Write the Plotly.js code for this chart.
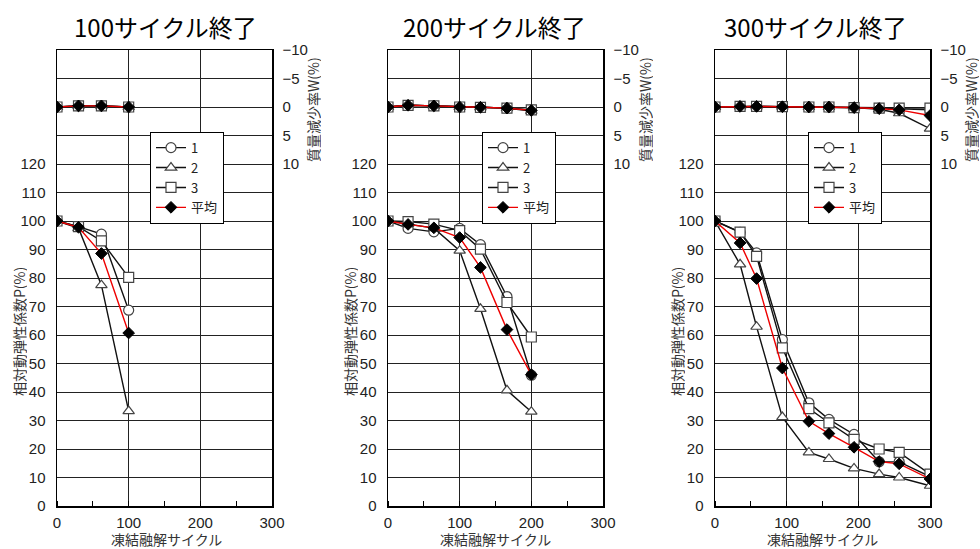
<!DOCTYPE html>
<html>
<head>
<meta charset="utf-8">
<script src="https://cdn.plot.ly/plotly-3.0.1.min.js"></script>
<style>html,body{margin:0;padding:0;background:#fff;}#chart{width:980px;height:549px;}</style>
</head>
<body>
<div id="chart"></div>
<script>
// ---- data ----
const panelTitles = ["100サイクル終了", "200サイクル終了", "300サイクル終了"];
const seriesNames = ["1", "2", "3", "平均"];
const xTickVals = [0, 100, 200, 300];
const pTickVals = [0, 10, 20, 30, 40, 50, 60, 70, 80, 90, 100, 110, 120];
const wTickVals = [-10, -5, 0, 5, 10];

// 100 cycles
const cycles100 = [0, 30, 62, 100];
const P100_1 = [100, 98.0, 95.4, 68.7];
const P100_2 = [100, 97.5, 77.5, 33.3];
const P100_3 = [100, 98.0, 93.0, 80.2];
const P100_avg = [100, 97.8, 88.6, 60.7];
const W100_1 = [0, -0.2, -0.2, 0.0];
const W100_2 = [0, -0.2, -0.2, 0.0];
const W100_3 = [0, -0.2, -0.2, 0.0];
const W100_avg = [0, -0.2, -0.2, 0.0];

// 200 cycles
const cycles200 = [0, 28, 64, 100, 129, 166, 200];
const P200_1 = [100, 97.4, 96.2, 97.4, 91.7, 73.5, 45.9];
const P200_2 = [100, 99.0, 97.5, 89.6, 69.2, 40.6, 33.1];
const P200_3 = [100, 99.8, 98.9, 96.6, 90.1, 71.4, 59.3];
const P200_avg = [100, 98.8, 97.6, 94.2, 83.7, 61.9, 46.1];
const W200_1 = [0, -0.3, -0.2, 0.0, 0.05, 0.2, 0.5];
const W200_2 = [0, -0.3, -0.2, 0.0, 0.05, 0.2, 0.7];
const W200_3 = [0, -0.3, -0.2, 0.0, 0.05, 0.2, 0.5];
const W200_avg = [0, -0.3, -0.2, 0.0, 0.05, 0.2, 0.6];

// 300 cycles
const cycles300 = [0, 35, 58, 94, 131, 159, 194, 229, 257, 300];
const P300_1 = [100, 96.0, 88.8, 58.4, 36.2, 30.4, 25.1, 15.5, 15.5, 10.3];
const P300_2 = [100, 84.8, 62.9, 31.2, 18.8, 16.5, 13.2, 11.2, 10.0, 7.1];
const P300_3 = [100, 96.1, 87.6, 55.5, 34.2, 29.2, 23.4, 20.0, 18.8, 11.2];
const P300_avg = [100, 92.3, 79.8, 48.4, 29.7, 25.4, 20.6, 15.6, 14.8, 9.5];
const W300_1 = [0, -0.1, -0.1, -0.05, 0.0, 0.0, 0.1, 0.2, 0.3, 0.5];
const W300_2 = [0, -0.1, -0.1, -0.05, 0.0, 0.0, 0.1, 0.4, 1.1, 3.8];
const W300_3 = [0, -0.1, -0.1, -0.05, 0.0, 0.0, 0.1, 0.2, 0.2, 0.2];
const W300_avg = [0, -0.1, -0.1, -0.05, 0.0, 0.0, 0.1, 0.3, 0.5, 1.5];

// ---- styles ----
const styles = [
  {line: {color: '#111', width: 1.4}, marker: {symbol: 'circle', size: 10, color: '#fff', line: {color: '#444', width: 1.2}}},
  {line: {color: '#111', width: 1.4}, marker: {symbol: 'triangle-up', size: 10, color: '#fff', line: {color: '#444', width: 1.2}}},
  {line: {color: '#111', width: 1.4}, marker: {symbol: 'square', size: 10, color: '#fff', line: {color: '#444', width: 1.2}}},
  {line: {color: '#ee0000', width: 1.4}, marker: {symbol: 'diamond', size: 9, color: '#000', line: {color: '#000', width: 1}}}
];

const panels = [
  {x: cycles100, P: [P100_1, P100_2, P100_3, P100_avg], W: [W100_1, W100_2, W100_3, W100_avg]},
  {x: cycles200, P: [P200_1, P200_2, P200_3, P200_avg], W: [W200_1, W200_2, W200_3, W200_avg]},
  {x: cycles300, P: [P300_1, P300_2, P300_3, P300_avg], W: [W300_1, W300_2, W300_3, W300_avg]}
];

const traces = [];
panels.forEach((pn, i) => {
  const xa = i === 0 ? 'x' : 'x' + (i + 1);
  const yaP = i === 0 ? 'y' : 'y' + (2 * i + 1);
  const yaW = 'y' + (2 * i + 2);
  const leg = i === 0 ? 'legend' : 'legend' + (i + 1);
  for (let s = 0; s < 4; s++) {
    traces.push({
      type: 'scatter', mode: 'lines+markers', name: seriesNames[s],
      x: pn.x, y: pn.W[s], xaxis: xa, yaxis: yaW,
      line: styles[s].line, marker: styles[s].marker,
      showlegend: false, legendgroup: 'g' + i + s, legend: leg, hoverinfo: 'skip'
    });
  }
  for (let s = 0; s < 4; s++) {
    traces.push({
      type: 'scatter', mode: 'lines+markers', name: seriesNames[s],
      x: pn.x, y: pn.P[s], xaxis: xa, yaxis: yaP,
      line: styles[s].line, marker: styles[s].marker,
      showlegend: true, legendgroup: 'g' + i + s, legend: leg
    });
  }
});

// ---- layout ----
const W = 980;
const domains = [[57 / W, 272 / W], [388 / W, 603 / W], [715 / W, 930 / W]];
const tickFont = {family: 'Liberation Sans, Arial, sans-serif', size: 15, color: '#222'};
const jpFont = 'Noto Sans CJK JP, sans-serif';

const layout = {
  width: 980, height: 549,
  margin: {l: 0, r: 0, t: 50, b: 43},
  paper_bgcolor: '#fff', plot_bgcolor: '#fff',
  showlegend: true,
  annotations: [],
  font: {family: 'Liberation Sans, Arial, sans-serif', color: '#222'}
};

const legX = [150 / W, 482 / W, 808 / W];
const titleX = [165 / W, 495 / W, 815 / W];
const leftTitleX = [19 / W, 350 / W, 677 / W];
const rightTitleX = [313 / W, 645 / W, 971 / W];
const xTitleX = [166 / W, 496 / W, 822 / W];

for (let i = 0; i < 3; i++) {
  const xk = i === 0 ? 'xaxis' : 'xaxis' + (i + 1);
  const yPk = i === 0 ? 'yaxis' : 'yaxis' + (2 * i + 1);
  const yWk = 'yaxis' + (2 * i + 2);
  const yPid = i === 0 ? 'y' : 'y' + (2 * i + 1);
  const xid = i === 0 ? 'x' : 'x' + (i + 1);
  layout[xk] = {
    domain: domains[i], anchor: yPid, range: [0, 300],
    tickvals: xTickVals, ticks: '', tickfont: tickFont, ticklabelstandoff: 2,
    showgrid: true, gridcolor: '#222', gridwidth: 1,
    showline: true, linecolor: '#000', linewidth: 1.5, mirror: true,
    zeroline: false, fixedrange: true,
    minor: {dtick: 50, tick0: 0, ticks: 'inside', ticklen: 5, tickcolor: '#000', tickwidth: 1, showgrid: false}
  };
  layout[yPk] = {
    domain: [0, 1], anchor: xid, range: [0, 160],
    tickvals: pTickVals, ticks: '', tickfont: tickFont, ticklabelstandoff: 7,
    showgrid: true, gridcolor: '#222', gridwidth: 1,
    showline: true, linecolor: '#000', linewidth: 1.5,
    zeroline: false, fixedrange: true
  };
  layout[yWk] = {
    overlaying: yPid, side: 'right', anchor: xid, range: [70, -10],
    tickvals: wTickVals, ticks: '', tickfont: tickFont, ticklabelstandoff: 6,
    showgrid: true, gridcolor: '#222', gridwidth: 1,
    showline: true, linecolor: '#000', linewidth: 1.5,
    zeroline: false, fixedrange: true
  };
  const legKey = i === 0 ? 'legend' : 'legend' + (i + 1);
  layout[legKey] = {
    x: legX[i], xanchor: 'left', y: 0.72, yanchor: 'middle',
    bgcolor: '#fff', bordercolor: '#000', borderwidth: 1,
    font: {family: jpFont, size: 13, color: '#222'},
    tracegroupgap: 0, traceorder: 'normal', itemwidth: 30
  };
  layout.annotations.push({
    text: panelTitles[i], xref: 'paper', yref: 'paper', x: titleX[i], y: 1 + 23 / 456,
    xanchor: 'center', yanchor: 'middle', showarrow: false,
    font: {family: jpFont, size: 24, color: '#000'}
  });
  layout.annotations.push({
    text: '凍結融解サイクル', xref: 'paper', yref: 'paper', x: xTitleX[i], y: (506 - 539) / 456,
    xanchor: 'center', yanchor: 'middle', showarrow: false, height: 16, valign: 'middle',
    font: {family: jpFont, size: 14, color: '#333'}
  });
  layout.annotations.push({
    text: '相対動弾性係数P(%)', xref: 'paper', yref: 'paper', x: leftTitleX[i], y: (506 - 332) / 456,
    xanchor: 'center', yanchor: 'middle', showarrow: false, textangle: -90, height: 16, valign: 'middle',
    font: {family: jpFont, size: 14, color: '#333'}
  });
  layout.annotations.push({
    text: '質量減少率W(%)', xref: 'paper', yref: 'paper', x: rightTitleX[i], y: (506 - 110) / 456,
    xanchor: 'center', yanchor: 'middle', showarrow: false, textangle: -90, height: 16, valign: 'middle',
    font: {family: jpFont, size: 14, color: '#333'}
  });
}

Plotly.newPlot('chart', traces, layout, {staticPlot: true});
</script>
</body>
</html>
